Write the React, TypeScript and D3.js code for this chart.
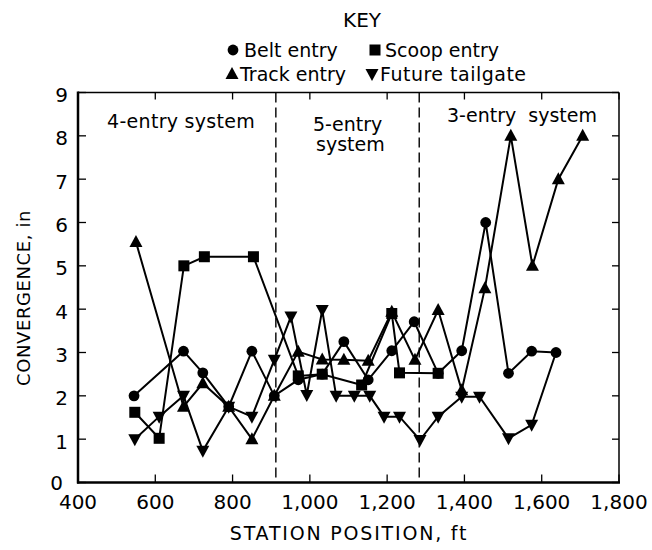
import React from "react";
import * as d3 from "d3";

const beltX = [545, 673, 723, 790, 850, 908, 970, 1032, 1088, 1151, 1212, 1270, 1332, 1393, 1455, 1514, 1574, 1637];
const beltY = [2.0, 3.03, 2.53, 1.75, 3.03, 2.0, 2.37, 2.5, 3.25, 2.37, 3.04, 3.71, 2.52, 3.04, 6.0, 2.52, 3.03, 3.0];

const scoopX = [547, 610, 674, 727, 854, 970, 1032, 1134, 1212, 1232, 1332];
const scoopY = [1.62, 1.02, 5.0, 5.21, 5.21, 2.46, 2.5, 2.25, 3.9, 2.53, 2.52];

const trackX = [550, 673, 723, 790, 850, 908, 970, 1032, 1088, 1151, 1212, 1272, 1332, 1393, 1453, 1520, 1576, 1643, 1706];
const trackY = [5.55, 1.75, 2.29, 1.75, 1.0, 2.0, 3.02, 2.84, 2.83, 2.81, 3.94, 2.83, 3.98, 2.13, 4.48, 8.0, 5.0, 7.0, 8.0];

// last future-tailgate reading coincides with the belt-entry point (drawn as a circle in the source)
const futureX = [547, 610, 673, 723, 790, 850, 908, 951, 992, 1032, 1068, 1115, 1155, 1192, 1232, 1285, 1332, 1393, 1439, 1514, 1574, 1637];
const futureY = [1.0, 1.52, 2.0, 0.73, 1.75, 1.52, 2.83, 3.83, 2.02, 3.98, 2.0, 2.0, 2.0, 1.52, 1.52, 0.98, 1.52, 1.98, 1.98, 1.02, 1.33, 3.0];

const xTicks = [400, 600, 800, 1000, 1200, 1400, 1600, 1800];
const yTicks = [0, 1, 2, 3, 4, 5, 6, 7, 8, 9];
const dividers = [912, 1283];

const W = 652, H = 550;
const L = 78, R = 619, T = 92.5, B = 482.5;
const FONT = "DejaVu Sans, Liberation Sans, sans-serif";

const x = d3.scaleLinear().domain([400, 1800]).range([L, R]);
const y = d3.scaleLinear().domain([0, 9]).range([B, T]);
const fmt = d3.format(",");

const lineGen = d3.line<[number, number]>().x(d => x(d[0])).y(d => y(d[1]));

function zip(xs: number[], ys: number[]): [number, number][] {
  return xs.map((v, i) => [v, ys[i]]);
}

function Marker({ kind, cx, cy }: { kind: string; cx: number; cy: number }) {
  if (kind === "circle") return <circle cx={cx} cy={cy} r={5.4} fill="#000" />;
  if (kind === "square") return <rect x={cx - 5.5} y={cy - 5.5} width={11} height={11} fill="#000" />;
  if (kind === "up") return <path d={`M${cx},${cy - 7} L${cx + 6.5},${cy + 5} L${cx - 6.5},${cy + 5} Z`} fill="#000" />;
  return <path d={`M${cx},${cy + 7} L${cx + 6.5},${cy - 5} L${cx - 6.5},${cy - 5} Z`} fill="#000" />;
}

const series = [
  { kind: "down", xs: futureX, ys: futureY, skipLast: true },
  { kind: "up", xs: trackX, ys: trackY, skipLast: false },
  { kind: "square", xs: scoopX, ys: scoopY, skipLast: false },
  { kind: "circle", xs: beltX, ys: beltY, skipLast: false },
];

export default function App() {
  return (
    <svg width={W} height={H} style={{ position: "absolute", left: 0, top: 0, background: "#fff" }} fontFamily={FONT}>
      <rect x={0} y={0} width={W} height={H} fill="#fff" />
      {/* Legend */}
      <text x={362} y={27} textAnchor="middle" fontSize={20} fill="#000">KEY</text>
      <Marker kind="circle" cx={233} cy={50} />
      <text x={244} y={57} fontSize={19} fill="#000">Belt entry</text>
      <Marker kind="square" cx={375} cy={50} />
      <text x={385} y={57} fontSize={19} fill="#000">Scoop entry</text>
      <Marker kind="up" cx={232} cy={74} />
      <text x={240} y={81} fontSize={19} fill="#000">Track entry</text>
      <Marker kind="down" cx={372} cy={74} />
      <text x={380} y={81} fontSize={19} letterSpacing={0.5} fill="#000">Future tailgate</text>

      {/* Frame */}
      <line x1={L} y1={T} x2={R} y2={T} stroke="#000" strokeWidth={1.5} />
      <line x1={R} y1={T} x2={R} y2={B} stroke="#000" strokeWidth={1.5} />
      <line x1={L} y1={T - 1} x2={L} y2={B + 1} stroke="#000" strokeWidth={2.5} />
      <line x1={L - 1} y1={B} x2={R + 1} y2={B} stroke="#000" strokeWidth={2.5} />

      {/* Ticks */}
      {xTicks.map(t => (
        <g key={"xt" + t}>
          <line x1={x(t)} x2={x(t)} y1={B} y2={B - 8} stroke="#000" strokeWidth={1.3} />
          <line x1={x(t)} x2={x(t)} y1={T} y2={T + 7} stroke="#000" strokeWidth={1.3} />
          <text x={x(t)} y={509} textAnchor="middle" fontSize={20} fill="#000">{fmt(t)}</text>
        </g>
      ))}
      {yTicks.map(t => (
        <g key={"yt" + t}>
          <line x1={L} x2={L + 8} y1={y(t)} y2={y(t)} stroke="#000" strokeWidth={1.3} />
          <line x1={R} x2={R - 7} y1={y(t)} y2={y(t)} stroke="#000" strokeWidth={1.3} />
          <text x={t === 0 ? 63 : 68} y={y(t) + (t === 0 ? 7 : 9.5)} textAnchor="end" fontSize={20} fill="#000">{t}</text>
        </g>
      ))}

      {/* Axis titles */}
      <text x={349} y={540} textAnchor="middle" fontSize={19} letterSpacing={1.8} fill="#000">STATION POSITION, ft</text>
      <text transform={`translate(30,298) rotate(-90)`} textAnchor="middle" fontSize={18} letterSpacing={0.6} fill="#000">CONVERGENCE, in</text>

      {/* Dividers */}
      {dividers.map(d => (
        <line key={"dv" + d} x1={x(d)} x2={x(d)} y1={T} y2={B} stroke="#000" strokeWidth={1.4} strokeDasharray="10,5" />
      ))}

      {/* Region labels */}
      <text x={107} y={128} fontSize={19} letterSpacing={0.3} fill="#000">4-entry system</text>
      <text x={313} y={131} fontSize={19} fill="#000">5-entry</text>
      <text x={316} y={151} fontSize={19} fill="#000">system</text>
      <text x={447} y={122} fontSize={19} fill="#000" style={{ whiteSpace: "pre" }}>3-entry  system</text>

      {/* Lines */}
      {series.map(s => (
        <path key={"l" + s.kind} d={lineGen(zip(s.xs, s.ys)) || ""} fill="none" stroke="#000" strokeWidth={2} />
      ))}
      {/* Markers */}
      {series.map(s => (
        <g key={"m" + s.kind}>
          {s.xs.map((v, i) =>
            s.skipLast && i === s.xs.length - 1 ? null : (
              <Marker key={i} kind={s.kind} cx={x(v)} cy={y(s.ys[i])} />
            )
          )}
        </g>
      ))}
    </svg>
  );
}
